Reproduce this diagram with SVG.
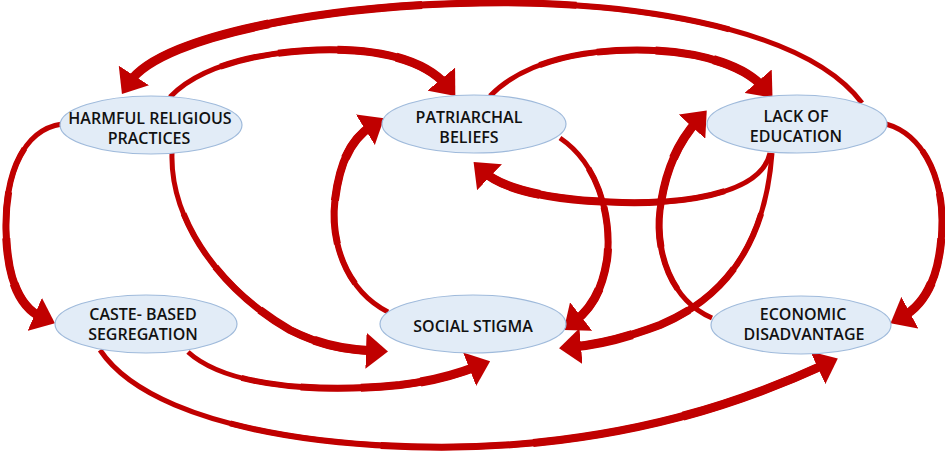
<svg xmlns="http://www.w3.org/2000/svg" width="945" height="458" viewBox="0 0 945 458">
<style>
.node ellipse{fill:#E2ECF7;stroke:#9FBADB;stroke-width:1.2}
.node text{font-family:"Open Sans","Liberation Sans",sans-serif;font-weight:600;font-size:16px;fill:#111;text-anchor:middle}
.c use{fill:none;stroke:#C00000}
.t1{stroke-width:5}
.t2{stroke-width:6;stroke-dasharray:0 20 80}
.t3{stroke-width:7;stroke-dasharray:0 40 60}
.t4{stroke-width:8;stroke-dasharray:0 60 40}
.t5{stroke-width:9;stroke-dasharray:0 80 20;marker-end:url(#head)}
</style>
<defs>
<marker id="head" viewBox="0 0 22 36" markerWidth="22" markerHeight="36" refX="9" refY="18" orient="auto" markerUnits="userSpaceOnUse">
<path d="M0,0 L22,18 L0,36 Z" fill="#C00000"/>
</marker>
<path id="pA" pathLength="100" d="M862,103 C800,20 600,0 480,3 C330,5 160,35 129,83"/>
<path id="pB" pathLength="100" d="M170,97 C210,55 300,48 345,50 C400,52 432,68 447,86"/>
<path id="pC" pathLength="100" d="M490,96 C530,55 600,50 637,50 C700,50 745,66 764,88"/>
<path id="pD" pathLength="100" d="M770,153 C760,200 660,205 610,202 C560,200 505,192 483,171"/>
<path id="pE" pathLength="100" d="M772,153 C765,250 720,300 660,325 C620,340 595,345 572,347"/>
<path id="pF" pathLength="100" d="M560,138 C600,165 612,220 607,260 C602,290 592,308 574,322"/>
<path id="pG" pathLength="100" d="M388,312 C345,290 330,240 335,200 C340,160 352,138 373,125"/>
<path id="pH" pathLength="100" d="M172,153 C170,220 220,290 290,330 C320,345 345,350 375,351"/>
<path id="pI" pathLength="100" d="M62,124 C20,130 5,180 6,230 C7,280 20,308 43,318"/>
<path id="pJ" pathLength="100" d="M886,124 C925,135 942,180 942,220 C942,270 928,303 902,317"/>
<path id="pK" pathLength="100" d="M712,318 C670,300 655,250 660,210 C665,170 678,142 698,120"/>
<path id="pL" pathLength="100" d="M188,352 C230,390 330,392 400,385 C440,380 460,373 478,366"/>
<path id="pM" pathLength="100" d="M100,350 C160,440 400,460 560,440 C680,425 765,392 826,364"/>
</defs>
<g id="connectors" class="c">
<use href="#pA" class="t1"/><use href="#pA" class="t2"/><use href="#pA" class="t3"/><use href="#pA" class="t4"/><use href="#pA" class="t5"/>
<use href="#pB" class="t1"/><use href="#pB" class="t2"/><use href="#pB" class="t3"/><use href="#pB" class="t4"/><use href="#pB" class="t5"/>
<use href="#pC" class="t1"/><use href="#pC" class="t2"/><use href="#pC" class="t3"/><use href="#pC" class="t4"/><use href="#pC" class="t5"/>
<use href="#pD" class="t1"/><use href="#pD" class="t2"/><use href="#pD" class="t3"/><use href="#pD" class="t4"/><use href="#pD" class="t5"/>
<use href="#pE" class="t1"/><use href="#pE" class="t2"/><use href="#pE" class="t3"/><use href="#pE" class="t4"/><use href="#pE" class="t5"/>
<use href="#pF" class="t1"/><use href="#pF" class="t2"/><use href="#pF" class="t3"/><use href="#pF" class="t4"/><use href="#pF" class="t5"/>
<use href="#pG" class="t1"/><use href="#pG" class="t2"/><use href="#pG" class="t3"/><use href="#pG" class="t4"/><use href="#pG" class="t5"/>
<use href="#pH" class="t1"/><use href="#pH" class="t2"/><use href="#pH" class="t3"/><use href="#pH" class="t4"/><use href="#pH" class="t5"/>
<use href="#pI" class="t1"/><use href="#pI" class="t2"/><use href="#pI" class="t3"/><use href="#pI" class="t4"/><use href="#pI" class="t5"/>
<use href="#pJ" class="t1"/><use href="#pJ" class="t2"/><use href="#pJ" class="t3"/><use href="#pJ" class="t4"/><use href="#pJ" class="t5"/>
<use href="#pK" class="t1"/><use href="#pK" class="t2"/><use href="#pK" class="t3"/><use href="#pK" class="t4"/><use href="#pK" class="t5"/>
<use href="#pL" class="t1"/><use href="#pL" class="t2"/><use href="#pL" class="t3"/><use href="#pL" class="t4"/><use href="#pL" class="t5"/>
<use href="#pM" class="t1"/><use href="#pM" class="t2"/><use href="#pM" class="t3"/><use href="#pM" class="t4"/><use href="#pM" class="t5"/>
</g>
<g id="node-harmful" class="node">
<ellipse cx="151" cy="125" rx="91" ry="29"/>
<text x="150" y="124">HARMFUL RELIGIOUS</text>
<text x="149" y="144">PRACTICES</text>
</g>
<g id="node-patriarchal" class="node">
<ellipse cx="474" cy="124" rx="92" ry="29"/>
<text x="469" y="123">PATRIARCHAL</text>
<text x="469" y="143">BELIEFS</text>
</g>
<g id="node-education" class="node">
<ellipse cx="797" cy="124" rx="90" ry="29"/>
<text x="796" y="122">LACK OF</text>
<text x="796" y="142">EDUCATION</text>
</g>
<g id="node-caste" class="node">
<ellipse cx="146" cy="324" rx="91" ry="29"/>
<text x="143" y="320">CASTE- BASED</text>
<text x="143" y="340">SEGREGATION</text>
</g>
<g id="node-stigma" class="node">
<ellipse cx="473" cy="324" rx="93" ry="29"/>
<text x="473" y="332">SOCIAL STIGMA</text>
</g>
<g id="node-economic" class="node">
<ellipse cx="801" cy="325" rx="90" ry="29"/>
<text x="803" y="320">ECONOMIC</text>
<text x="804" y="340">DISADVANTAGE</text>
</g>
</svg>
